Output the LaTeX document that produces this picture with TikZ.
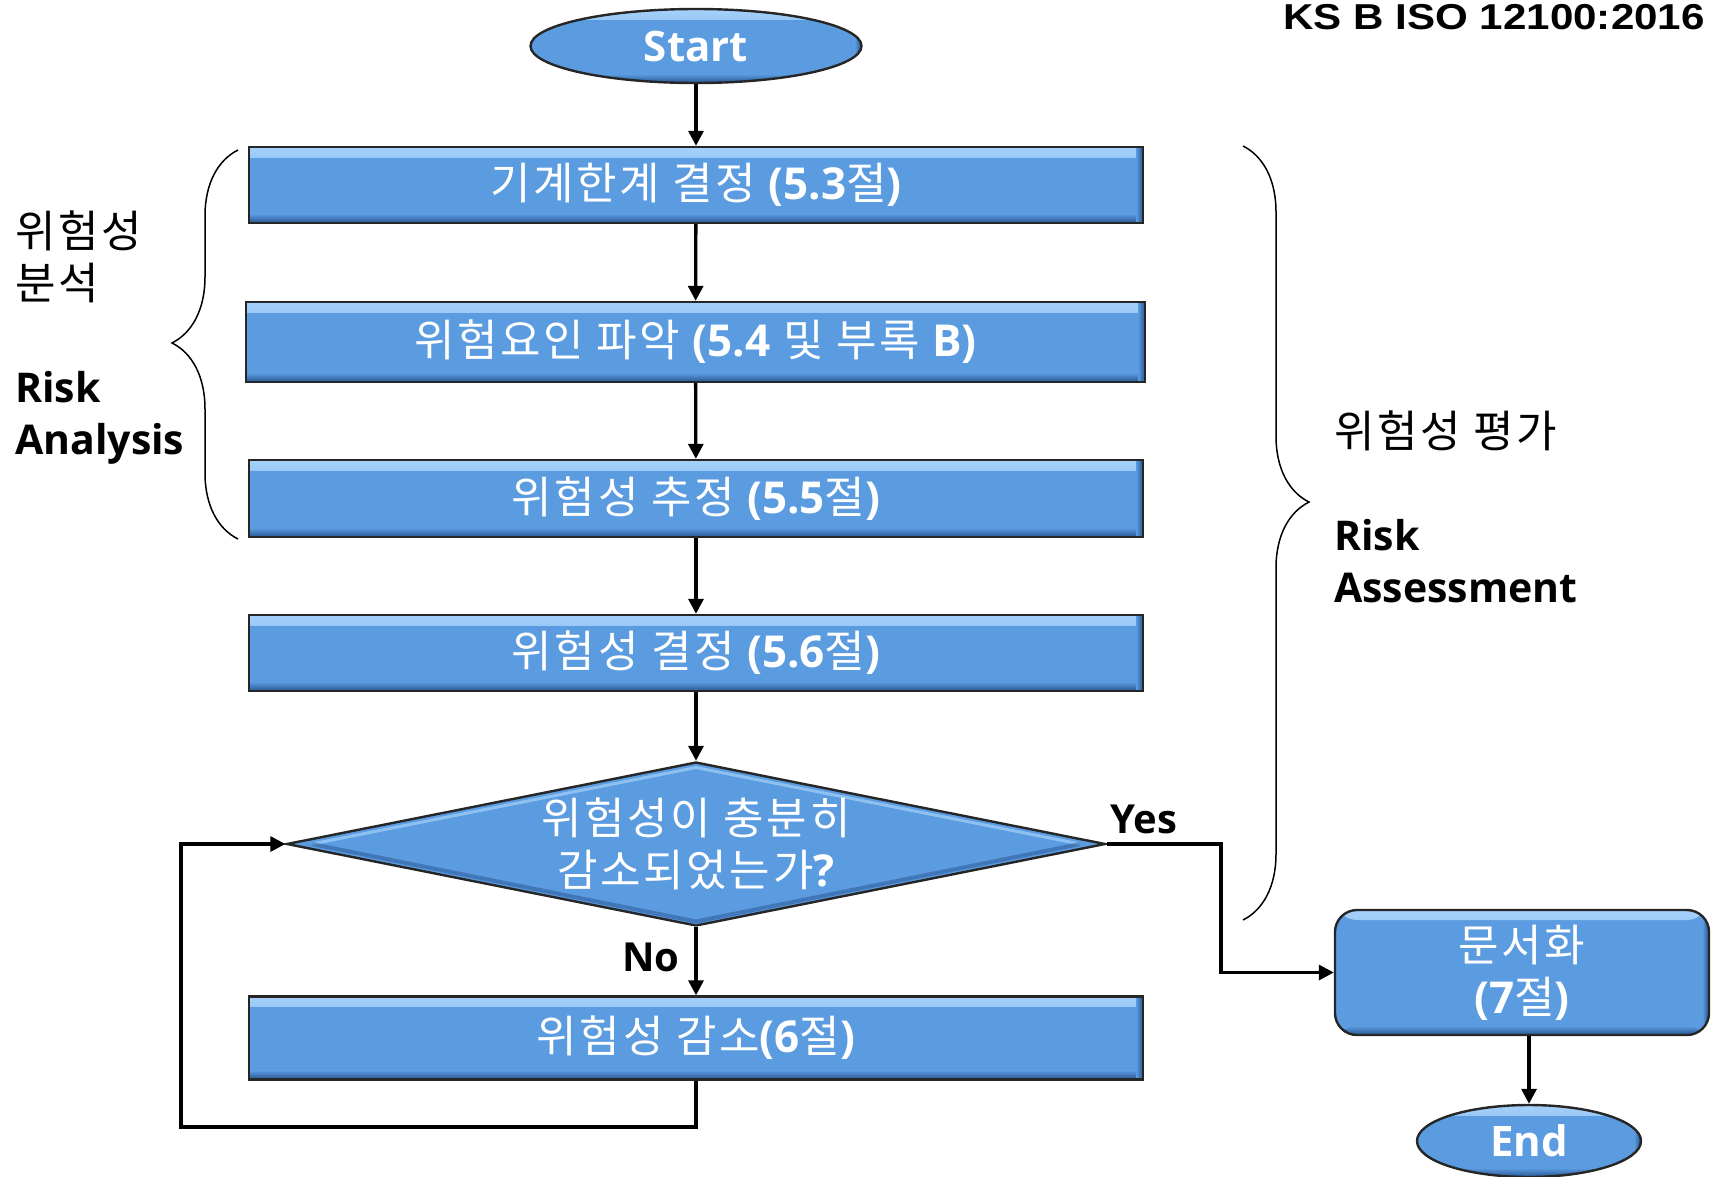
\documentclass[tikz,border=0pt]{standalone}
\usepackage{fontspec}
\usetikzlibrary{arrows.meta,shapes.geometric,decorations.pathreplacing}
\newfontfamily\kr{Noto Sans CJK KR}[LetterSpace=6]
\newfontfamily\lat{Open Sans}
\newfontfamily\arial{Liberation Sans}
\definecolor{boxblue}{RGB}{91,155,224}
\definecolor{boxhi}{RGB}{165,208,250}
\definecolor{boxlo}{RGB}{40,85,145}
\newcommand\lb[1]{{\lat\bfseries #1}}
\newcommand\sz{\fontsize{44}{52}\selectfont}
\tikzset{
  bevel/.style={fill=boxblue, draw=black!85, line width=2.4pt,
    path picture={
      \shade[top color=boxhi, bottom color=boxblue]
        (path picture bounding box.north west) rectangle ([yshift=-10pt]path picture bounding box.north east);
      \shade[top color=boxblue, bottom color=boxlo]
        ([yshift=9pt]path picture bounding box.south west) rectangle (path picture bounding box.south east);
      \shade[left color=boxblue, right color=boxlo]
        ([xshift=-7pt]path picture bounding box.south east) rectangle (path picture bounding box.north east);
    }},
  stepbox/.style={bevel, rectangle, inner sep=0pt, text=white, font=\kr\sz, align=center},
  terminal/.style={bevel, ellipse, inner sep=0pt, text=white, font=\lat\bfseries\fontsize{42}{50}\selectfont},
  decision/.style={fill=boxblue, draw=black!85, line width=2.4pt, diamond, aspect=5, inner sep=0pt,
    text=white, font=\kr\sz, align=center,
    path picture={
      \draw[boxhi, line width=3pt, line join=round, opacity=0.7]
        ([xshift=25pt]path picture bounding box.west)
        -- ([yshift=-5pt]path picture bounding box.north)
        -- ([xshift=-25pt]path picture bounding box.east);
      \draw[boxlo, line width=4pt, line join=round, opacity=0.5]
        ([xshift=25pt]path picture bounding box.west)
        -- ([yshift=4pt]path picture bounding box.south)
        -- ([xshift=-25pt]path picture bounding box.east);
    }},
  flow/.style={line width=3.3pt, -{Triangle[length=15pt,width=15pt]}},
  bracket/.style={line width=1.5pt, decorate, decoration={brace, amplitude=66pt}},
  sidetext/.style={inner sep=0pt, align=left, anchor=west}
}
\begin{document}
\begin{tikzpicture}[x=1pt, y=-1pt]
\useasboundingbox (0,0) rectangle (1717,1176);

% process chain
\node[terminal, minimum width=331pt, minimum height=74pt] (start) at (696,46) {Start};
\node[stepbox, minimum width=894pt, minimum height=76pt] (b1) at (696,185)
  {기계한계 결정 \lb{(5.3}절\lb{)}};
\node[stepbox, minimum width=899pt, minimum height=80pt] (b2) at (695.5,342)
  {위험요인 파악 \lb{(5.4} 및 부록 \lb{B)}};
\node[stepbox, minimum width=894pt, minimum height=77pt] (b3) at (696,498.5)
  {위험성 추정 \lb{(5.5}절\lb{)}};
\node[stepbox, minimum width=894pt, minimum height=76pt] (b4) at (696,653)
  {위험성 결정 \lb{(5.6}절\lb{)}};
\node[decision, minimum width=819pt, minimum height=164pt] (dec) at (696,844)
  {위험성이 충분히\\감소되었는가\lb{?}};
\node[stepbox, minimum width=894pt, minimum height=83pt] (b5) at (696,1038)
  {위험성 감소\lb{(6}절\lb{)}};
\node[stepbox, rounded corners=22pt, minimum width=374pt, minimum height=125pt] (doc) at (1522,972.5)
  {문서화\\\lb{(7}절\lb{)}};
\node[terminal, minimum width=224pt, minimum height=72pt] (end) at (1529,1141) {End};

% connectors
\draw[flow] (start) -- (b1);
\draw[flow] (b1) -- (b2);
\draw[flow] (b2) -- (b3);
\draw[flow] (b3) -- (b4);
\draw[flow] (b4) -- (dec);
\draw[flow] (dec) -- (b5);
\coordinate (loopc) at (181,1127);
\draw[flow] (b5.south) |- (loopc) |- (dec.west);
\coordinate (yesc) at (1221,972.5);
\draw[flow] (dec.east) -| (yesc) -- (doc.west);
\draw[flow] (doc.south -| end.north) -- (end.north);

% branch labels
\node[font=\lat\bfseries\fontsize{40}{48}\selectfont, inner sep=0pt] (yes) at (1144,819) {Yes};
\node[font=\lat\bfseries\fontsize{40}{48}\selectfont, inner sep=0pt] (no) at (651,957) {No};

% braces
\draw[bracket, decoration={aspect=0.504}] (238,539) -- (238,150);
\draw[bracket, decoration={aspect=0.46}] (1243,146) -- (1243,920);

% side labels
\node[sidetext, font=\kr\sz] (ra-kr) at (15,257) {위험성\\분석};
\node[sidetext, font=\lat\bfseries\fontsize{41}{52}\selectfont] (ra-en) at (15,418) {Risk\\Analysis};
\node[sidetext, font=\kr\sz] (rs-kr) at (1334,431) {위험성 평가};
\node[sidetext, font=\lat\bfseries\fontsize{41}{52}\selectfont] (rs-en) at (1334,561) {Risk\\Assessment};

% standard reference
\node[font=\arial\bfseries\fontsize{36}{40}\selectfont, anchor=base east, inner sep=0pt, xscale=1.17] (std) at (1705,29) {KS B ISO 12100:2016};
\end{tikzpicture}
\end{document}
